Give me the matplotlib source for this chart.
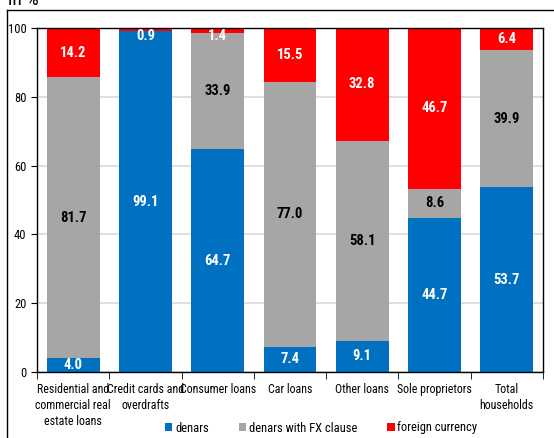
import matplotlib.pyplot as plt
from matplotlib.lines import Line2D
import numpy as np

plt.rcParams['font.family'] = ['Roboto Condensed', 'PT Sans Narrow', 'Barlow Semi Condensed', 'DejaVu Sans']

categories = ['Residential and\ncommercial real\nestate loans', 'Credit cards and\noverdrafts',
              'Consumer loans', 'Car loans', 'Other loans', 'Sole proprietors', 'Total\nhouseholds']
denars = [4.0, 99.1, 64.7, 7.4, 9.1, 44.7, 53.7]
fx_clause = [81.7, 0.0, 33.9, 77.0, 58.1, 8.6, 39.9]
foreign = [14.2, 0.9, 1.4, 15.5, 32.8, 46.7, 6.4]

blue = '#0070C0'
gray = '#A6A6A6'
red = '#FF0000'

fig = plt.figure(figsize=(5.54, 4.38), dpi=100)
ax = fig.add_axes([37/554, 1 - 372/438, (543 - 37)/554, (372 - 28)/438])

x = np.arange(len(categories))
w = 0.73
b1 = ax.bar(x, denars, w, color=blue, label='denars', zorder=2)
b2 = ax.bar(x, fx_clause, w, bottom=denars, color=gray, label='denars with FX clause', zorder=2)
bottom3 = np.array(denars) + np.array(fx_clause)
b3 = ax.bar(x, foreign, w, bottom=bottom3, color=red, label='foreign currency', zorder=2)

# value labels
for i in range(len(x)):
    segs = [(denars[i], 0, 'white'), (fx_clause[i], denars[i], 'black'), (foreign[i], bottom3[i], 'white')]
    for val, bot, col in segs:
        if val == 0:
            continue
        y = bot + val / 2
        if val < 3:
            y = 97.6
        ax.text(x[i], y, f'{val:.1f}', ha='center', va='center', color=col,
                fontsize=10.5, fontweight='bold', zorder=3)

ax.set_xlim(-0.5, 6.5)
ax.set_ylim(0, 100)
ax.set_yticks([0, 20, 40, 60, 80, 100])
ax.tick_params(axis='y', labelsize=9, length=4, direction='out')
ax.set_xticks(x)
ax.set_xticklabels(categories, fontsize=8.6, linespacing=1.3)
ax.tick_params(axis='x', length=0, pad=8)
ax.set_xticks(np.arange(-0.5, 7, 1), minor=True)
ax.tick_params(axis='x', which='minor', length=5, direction='out')
ax.yaxis.grid(True, color='#D9D9D9', linewidth=1.2, zorder=0)
ax.set_axisbelow(True)
for s in ax.spines.values():
    s.set_linewidth(1.0)
    s.set_color('black')

fig.legend(handles=[b1, b2, b3], loc='center', bbox_to_anchor=(321/554, 1 - 428/438),
           ncol=3, frameon=False, fontsize=9, handlelength=0.6, handleheight=0.6,
           handletextpad=0.2, columnspacing=2.4, borderpad=0)

# outer frame (partially visible)
fig.add_artist(Line2D([7/554, 1.0], [1 - 10/438, 1 - 10/438], color='black', linewidth=1))
fig.add_artist(Line2D([7/554, 7/554], [0, 1 - 10/438], color='black', linewidth=1))
fig.text(8/554, 1 - 5/438, 'in %', fontsize=14, ha='left', va='baseline')

fig.savefig('out.png', dpi=100)
